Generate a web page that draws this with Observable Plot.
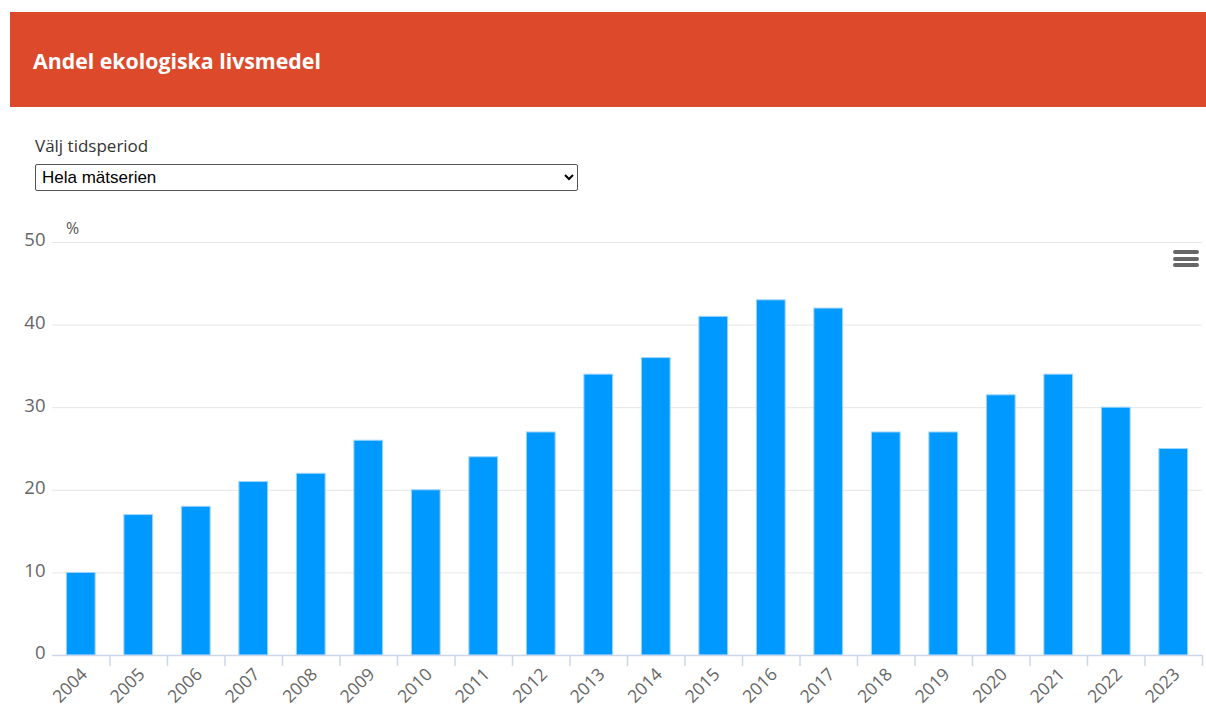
<!DOCTYPE html>
<html>
<head>
<meta charset="utf-8">
<script src="https://cdn.jsdelivr.net/npm/d3@7"></script>
<script src="https://cdn.jsdelivr.net/npm/@observablehq/plot@0.6"></script>
<style>
  html, body { margin: 0; padding: 0; background: #fff; }
  body { width: 1206px; height: 722px; position: relative; overflow: hidden; font-family: "Open Sans", sans-serif; }
  #header { position: absolute; left: 10px; top: 12px; width: 1196px; height: 95px; background: #dc4a2b; }
  #title { position: absolute; left: 23px; top: 34px; color: #fff; font-weight: 700; font-size: 21.3px; }
  #lbl { position: absolute; left: 35px; top: 134px; font-size: 17px; color: #333; }
  #sel { position: absolute; left: 35px; top: 164px; width: 543px; height: 27px; font-family: "Liberation Sans", Arial, sans-serif; font-size: 17px; border: 1px solid #555; border-radius: 2px; background: #fff; color: #000; padding: 0 2px; }
  #chart { position: absolute; left: 0; top: 210px; }
  #pct { position: absolute; left: 66px; top: 217px; font-size: 16px; color: #555; }
  #menu { position: absolute; left: 1173px; top: 250px; width: 26px; }
  #menu div { height: 4px; background: #666; border-radius: 2px; margin-bottom: 2.5px; }
  #chart svg text { font-family: "Open Sans", sans-serif; }
</style>
</head>
<body>
<div id="header"><div id="title">Andel ekologiska livsmedel</div></div>
<div id="lbl">Välj tidsperiod</div>
<select id="sel"><option>Hela mätserien</option></select>
<div id="chart"></div>
<div id="pct">%</div>
<div id="menu"><div></div><div></div><div></div></div>
<script>
const years = ["2004","2005","2006","2007","2008","2009","2010","2011","2012","2013","2014","2015","2016","2017","2018","2019","2020","2021","2022","2023"];
const shares = [10, 17, 18, 21, 22, 26, 20, 24, 27, 34, 36, 41, 43, 42, 27, 27, 31.5, 34, 30, 25];
const yTicks = [0, 10, 20, 30, 40, 50];

const data = years.map((y, i) => ({year: y, value: shares[i]}));

const width = 1206, height = 512;
const marginLeft = 52, marginRight = 4;
const nBands = years.length;
const step = (width - marginLeft - marginRight) / nBands;

const chart = Plot.plot({
  width, height,
  marginTop: 32, marginBottom: 67, marginLeft, marginRight,
  style: {fontFamily: "Open Sans, sans-serif", background: "#fff", fontSize: "16px"},
  x: {domain: years, paddingInner: 0.5, paddingOuter: 0.25, round: false, label: null},
  y: {domain: [0, 50], ticks: yTicks, label: null},
  marks: [
    Plot.gridY(yTicks.filter(t => t > 0), {stroke: "#e6e6e6", strokeOpacity: 1}),
    Plot.barY(data, {x: "year", y: "value", fill: "#0099ff", stroke: "#9fd4ff", strokeWidth: 1}),
    Plot.ruleY([0], {stroke: "#ccd6eb", strokeWidth: 1.5}),
    Plot.ruleX(years, {x: d => d, y1: 0, y2: 0, insetBottom: -11, dx: step / 2, stroke: "#ccd6eb", strokeWidth: 1.5}),
    Plot.axisY({ticks: yTicks, tickSize: 0, tickPadding: 7, fontSize: 18.5, fill: "#666", label: null, dy: -2}),
    Plot.axisX({tickSize: 0, tickRotate: -45, tickPadding: 16, fontSize: 17.5, fill: "#666", label: null, dx: 3})
  ]
});
document.getElementById("chart").appendChild(chart);
</script>
</body>
</html>
